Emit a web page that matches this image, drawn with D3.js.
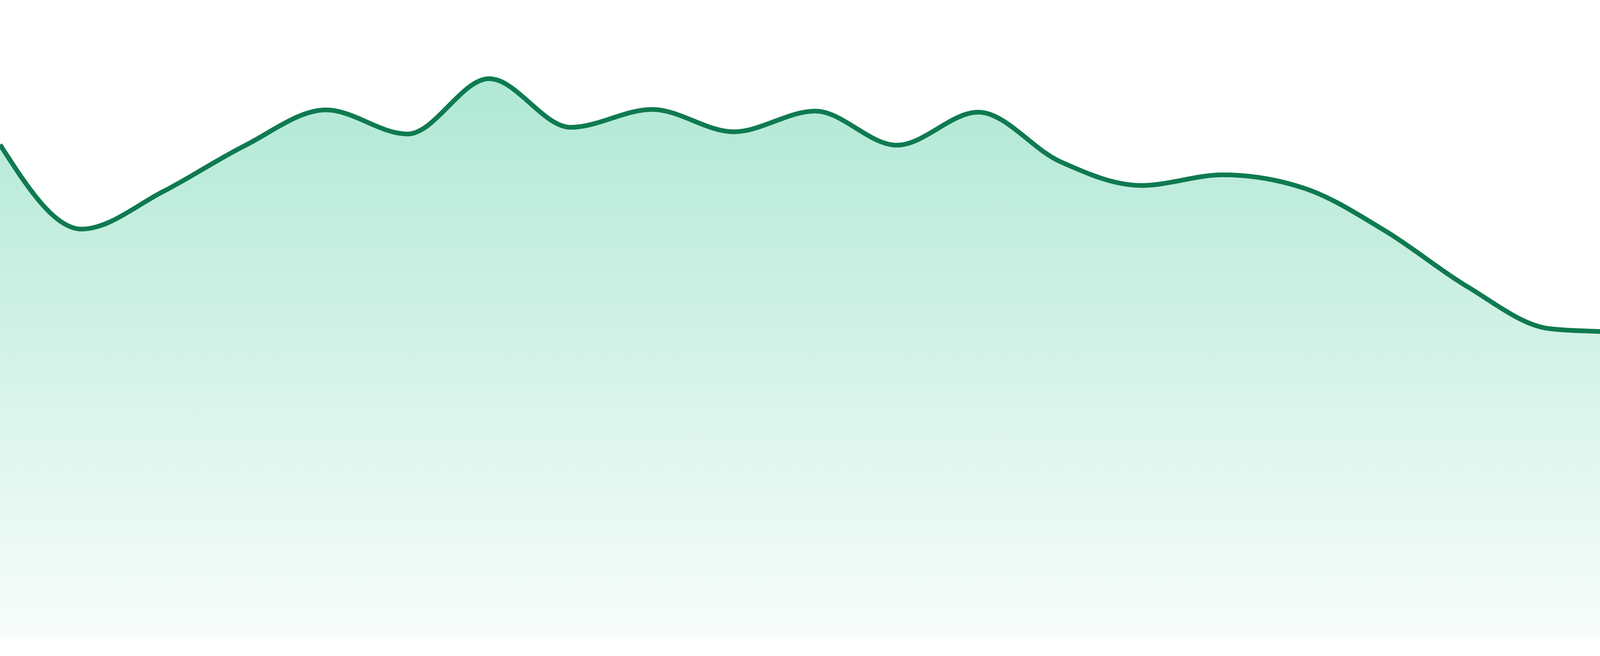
<!DOCTYPE html>
<html>
<head>
<meta charset="utf-8">
<script src="https://cdn.jsdelivr.net/npm/d3@7"></script>
<style>
  html, body { margin: 0; padding: 0; background: #fff; }
  svg { display: block; }
</style>
</head>
<body>
<div id="chart"></div>
<script>
// values, one per point, evenly spaced
var points = d3.range(1, 25).map(function(i) { return "P" + i; });
var values = [88.1, 73.0, 79.7, 87.9, 94.3, 90.0, 99.9, 91.2, 94.4, 90.4, 94.1, 88.0,
              93.9, 85.1, 80.8, 82.7, 80.3, 72.6, 62.7, 55.2, 54.3, 47.4, 38.5, 36.2];
var yDomain = [0, 100];

var width = 4800, height = 1680;
var margin = {top: 200, right: 0, bottom: 48, left: 0};

var data = points.map(function(p, i) { return {key: p, value: values[i]}; });

var x = d3.scalePoint().domain(points).range([margin.left, width - margin.right]);
var y = d3.scaleLinear().domain(yDomain).range([height - margin.bottom, margin.top]);

var svg = d3.select("#chart").append("svg")
    .attr("width", width)
    .attr("height", height);

// fill gradient, green fading to nearly white
var grad = svg.append("defs").append("linearGradient")
    .attr("id", "areaFill")
    .attr("gradientUnits", "userSpaceOnUse")
    .attr("x1", 0).attr("x2", 0)
    .attr("y1", y(d3.max(values))).attr("y2", y(0));
grad.append("stop").attr("offset", "0%").attr("stop-color", "#10b981").attr("stop-opacity", 0.33);
grad.append("stop").attr("offset", "100%").attr("stop-color", "#10b981").attr("stop-opacity", 0.03);

var area = d3.area()
    .x(function(d) { return x(d.key); })
    .y0(y(0))
    .y1(function(d) { return y(d.value); })
    .curve(d3.curveMonotoneX);

var line = d3.line()
    .x(function(d) { return x(d.key); })
    .y(function(d) { return y(d.value); })
    .curve(d3.curveMonotoneX);

svg.append("path")
    .datum(data)
    .attr("d", area)
    .attr("fill", "url(#areaFill)");

svg.append("path")
    .datum(data)
    .attr("d", line)
    .attr("fill", "none")
    .attr("stroke", "#0f7a50")
    .attr("stroke-width", 12);
</script>
</body>
</html>
